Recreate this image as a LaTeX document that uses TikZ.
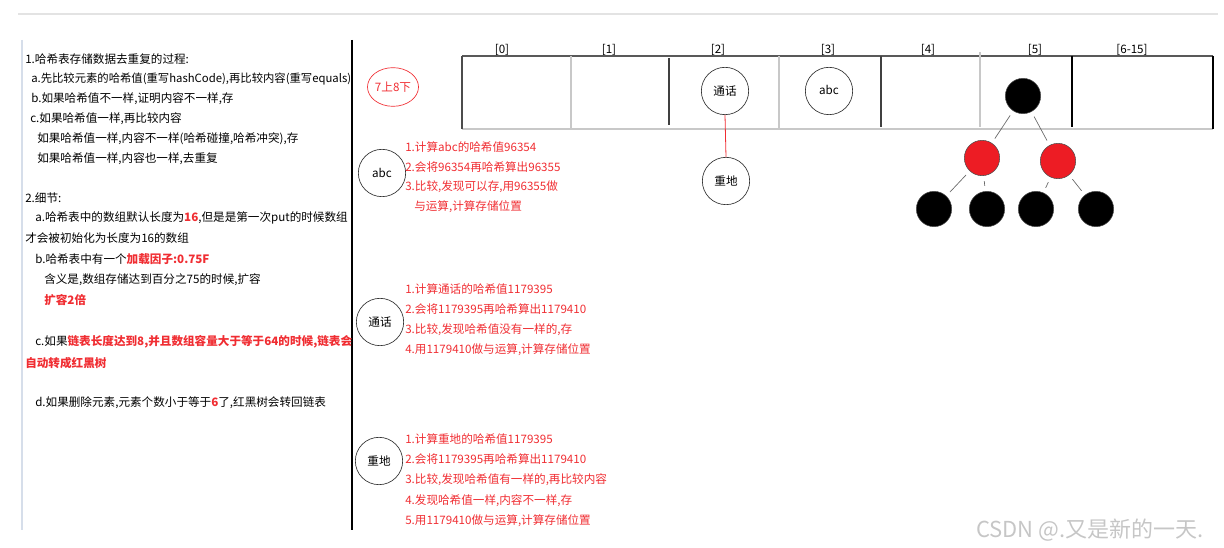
\documentclass[tikz,border=0pt]{standalone}
\usepackage{fontspec}
\setmainfont{Noto Sans CJK SC}
\usetikzlibrary{shapes.geometric}
\definecolor{tred}{RGB}{240,45,50}
\definecolor{fred}{RGB}{237,28,36}
\definecolor{lgrey}{RGB}{200,200,200}
\definecolor{lblue}{RGB}{214,222,234}
\begin{document}
\begin{tikzpicture}[x=0.75pt,y=-0.75pt,
  txt/.style={anchor=west, inner sep=0pt, font=\fontsize{8.7}{11}\selectfont},
  rtxt/.style={txt, text=tred},
  lbl/.style={inner sep=0pt, font=\fontsize{8.7}{11}\selectfont},
  kcirc/.style={circle, draw=black!80, line width=0.5pt, minimum size=35.5pt, inner sep=0pt, font=\fontsize{8.7}{11}\selectfont},
  bnode/.style={circle, fill=black, draw=black!70, minimum size=26.5pt, inner sep=0pt},
  rnode/.style={circle, fill=fred, draw=black!70, line width=0.4pt, minimum size=26.5pt, inner sep=0pt},
  tedge/.style={draw=black!60, line width=0.5pt, shorten >=4pt, shorten <=4pt}
]
\useasboundingbox (0,0) rectangle (1224,548);
% frame lines
\draw[gray!22, line width=0.8pt] (18,14) -- (1218,14);
\draw[lblue, line width=1pt] (22,40) -- (22,530);
\draw[black, line width=0.8pt] (352,40) -- (352,530);

% left text
\node[txt] (l1) at (25,59) {1.哈希表存储数据去重复的过程:};
\node[txt, font=\fontsize{8.5}{11}\selectfont] (l2) at (31,79) {a.先比较元素的哈希值(重写hashCode),再比较内容(重写equals)};
\node[txt] (l3) at (31,99) {b.如果哈希值不一样,证明内容不一样,存};
\node[txt] (l4) at (30,119) {c.如果哈希值一样,再比较内容};
\node[txt] (l5) at (37,139) {如果哈希值一样,内容不一样(哈希碰撞,哈希冲突),存};
\node[txt] (l6) at (37,159) {如果哈希值一样,内容也一样,去重复};
\node[txt] (l7) at (25,198) {2.细节:};
\node[txt] (l8) at (35,218) {a.哈希表中的数组默认长度为\textcolor{tred}{\textbf{16}},但是是第一次put的时候数组};
\node[txt] (l9) at (25,238) {才会被初始化为长度为16的数组};
\node[txt] (l10) at (35,259) {b.哈希表中有一个\textcolor{tred}{\textbf{加载因子:0.75F}}};
\node[txt] (l11) at (44,280) {含义是,数组存储达到百分之75的时候,扩容};
\node[txt] (l12) at (44,300) {\textcolor{tred}{\textbf{扩容2倍}}};
\node[txt] (l13) at (35,342) {c.如果\textcolor{tred}{\textbf{链表长度达到8,并且数组容量大于等于64的时候,链表会}}};
\node[txt] (l14) at (25,363) {\textcolor{tred}{\textbf{自动转成红黑树}}};
\node[txt] (l15) at (35,403) {d.如果删除元素,元素个数小于等于\textcolor{tred}{\textbf{6}}了,红黑树会转回链表};

% 7上8下
\node[ellipse, draw=tred, line width=0.5pt, minimum width=38pt, minimum height=29pt, inner sep=0pt, text=tred, font=\fontsize{8.7}{11}\selectfont] (e78) at (393,87) {7上8下};

% array
\draw[black!65, line width=0.8pt] (462,56) -- (1213,56);
\draw[lgrey, line width=1.6pt] (462,129) -- (1213,129);
\draw[black!70, line width=0.8pt] (462,56) -- (462,129);
\draw[black, line width=0.8pt] (1213,56) -- (1213,129);
\draw[lgrey, line width=1pt] (571,56) -- (571,129);
\draw[black!75, line width=0.8pt] (669,58) -- (669,125);
\draw[lgrey, line width=1pt] (779,56) -- (779,129);
\draw[black!75, line width=0.8pt] (881,56) -- (881,127);
\draw[lgrey, line width=1pt] (980,52) -- (980,127);
\draw[black, line width=0.8pt] (1072,56) -- (1072,127);

\node[lbl] (i0) at (502,50) {[0]};
\node[lbl] (i1) at (609,50) {[1]};
\node[lbl] (i2) at (718,50) {[2]};
\node[lbl] (i3) at (828,50) {[3]};
\node[lbl] (i4) at (928,50) {[4]};
\node[lbl] (i5) at (1035,50) {[5]};
\node[lbl] (i6) at (1132,50) {[6-15]};

% bucket contents
\node[kcirc] (th) at (725,91) {通话};
\node[kcirc] (zd) at (726,181) {重地};
\draw[tred, line width=0.6pt] (th.south) -- (zd.north);
\node[kcirc] (abc3) at (829,91) {\raisebox{2pt}{abc}};

% red-black tree
\node[bnode] (root) at (1023,96) {};
\node[rnode] (rl) at (982,158) {};
\node[rnode] (rr) at (1058,161) {};
\node[bnode] (k1) at (934,209) {};
\node[bnode] (k2) at (987,209) {};
\node[bnode] (k3) at (1036,209) {};
\node[bnode] (k4) at (1096,209) {};
\draw[tedge] (root) -- (rl);
\draw[tedge] (root) -- (rr);
\draw[tedge] (rl) -- (k1);
\draw[tedge] (rl) -- (k2);
\draw[tedge] (rr) -- (k3);
\draw[tedge] (rr) -- (k4);

% abc explanation
\node[kcirc] (abc) at (382,173) {abc};
\node[rtxt] (a1) at (405,147) {1.计算abc的哈希值96354};
\node[rtxt] (a2) at (405,167) {2.会将96354再哈希算出96355};
\node[rtxt] (a3) at (405,187) {3.比较,发现可以存,用96355做};
\node[rtxt] (a4) at (414,207) {与运算,计算存储位置};

% 通话 explanation
\node[kcirc] (th2) at (380,322) {通话};
\node[rtxt] (t1) at (405,289) {1.计算通话的哈希值1179395};
\node[rtxt] (t2) at (405,309) {2.会将1179395再哈希算出1179410};
\node[rtxt] (t3) at (405,330) {3.比较,发现哈希值没有一样的,存};
\node[rtxt] (t4) at (405,350) {4.用1179410做与运算,计算存储位置};

% 重地 explanation
\node[kcirc] (zd2) at (379,461) {重地};
\node[rtxt] (z1) at (405,439) {1.计算重地的哈希值1179395};
\node[rtxt] (z2) at (405,459) {2.会将1179395再哈希算出1179410};
\node[rtxt] (z3) at (405,480) {3.比较,发现哈希值有一样的,再比较内容};
\node[rtxt] (z4) at (405,501) {4.发现哈希值一样,内容不一样,存};
\node[rtxt] (z5) at (405,521) {5.用1179410做与运算,计算存储位置};

% watermark
\node[anchor=west, inner sep=0pt, text=gray!45, font=\fontsize{16.5}{18}\selectfont] (wm) at (976,530) {CSDN @.又是新的一天.};
\end{tikzpicture}
\end{document}
